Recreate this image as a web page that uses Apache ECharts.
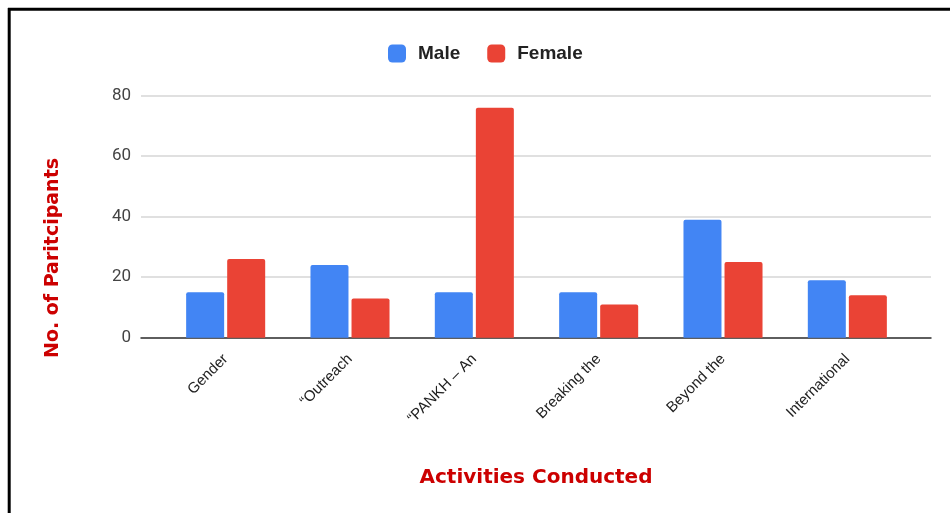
<!DOCTYPE html>
<html>
<head>
<meta charset="utf-8">
<script src="https://cdn.jsdelivr.net/npm/echarts@6/dist/echarts.min.js"></script>
<style>
html,body{margin:0;padding:0;background:#fff;}
#chart{width:950px;height:513px;}
</style>
</head>
<body>
<div id="chart"></div>
<script>
const categories = ['Gender', '\u201cOutreach', '\u201cPANKH \u2013 An', 'Breaking the', 'Beyond the', 'International'];
const maleValues = [15, 24, 15, 15, 39, 19];
const femaleValues = [26, 13, 76, 11, 25, 14];
const seriesNames = ['Male', 'Female'];
const yTicks = [0, 20, 40, 60, 80];
const xAxisTitle = 'Activities Conducted';
const yAxisTitle = 'No. of Paritcipants';

const chart = echarts.init(document.getElementById('chart'));
const gridTop = 95.7, gridBottom = 513 - 337.7;
chart.setOption({
  animation: false,
  backgroundColor: '#fff',
  legend: {
    top: 44,
    left: 388,
    padding: 0,
    itemWidth: 18,
    itemHeight: 18,
    itemGap: 27,
    icon: 'roundRect',
    data: seriesNames,
    textStyle: {fontFamily: 'Liberation Sans, Arial', fontWeight: 'bold', fontSize: 19, color: '#222', padding: [0, 0, 0, 7]}
  },
  grid: [
    {left: 141, right: 19, top: gridTop, bottom: gridBottom},
    {left: 163.5, right: 40.5, top: gridTop, bottom: gridBottom}
  ],
  xAxis: [
    {gridIndex: 0, type: 'category', data: [''], axisLine: {show: true, lineStyle: {color: '#333', width: 1.5}}, axisTick: {show: false}, axisLabel: {show: false}},
    {gridIndex: 1, type: 'category', data: categories, axisLine: {show: false}, axisTick: {show: false},
     axisLabel: {rotate: 45, interval: 0, margin: 19, fontFamily: 'Liberation Sans, Arial', fontSize: 15, color: '#222', padding: [0, 0, 0, 0]}}
  ],
  yAxis: [
    {gridIndex: 0, type: 'value', min: yTicks[0], max: yTicks[yTicks.length - 1], interval: yTicks[1] - yTicks[0],
     axisLine: {show: false}, axisTick: {show: false},
     axisLabel: {margin: 10, fontFamily: 'Roboto', fontSize: 17, color: '#444'},
     splitLine: {lineStyle: {color: '#d6d6d6', width: 1.5}}},
    {gridIndex: 1, type: 'value', min: yTicks[0], max: yTicks[yTicks.length - 1], interval: yTicks[1] - yTicks[0],
     show: false, splitLine: {show: false}}
  ],
  series: [
    {name: seriesNames[0], type: 'bar', xAxisIndex: 1, yAxisIndex: 1, data: maleValues, barWidth: 38, barGap: '8%',
     itemStyle: {color: '#4285F4', borderRadius: [2, 2, 0, 0]}},
    {name: seriesNames[1], type: 'bar', xAxisIndex: 1, yAxisIndex: 1, data: femaleValues, barWidth: 38, barGap: '8%',
     itemStyle: {color: '#EA4335', borderRadius: [2, 2, 0, 0]}}
  ],
  graphic: [
    {type: 'line', shape: {x1: 8, y1: 9.3, x2: 950, y2: 9.3}, style: {stroke: '#000', lineWidth: 3}},
    {type: 'line', shape: {x1: 9.2, y1: 8, x2: 9.2, y2: 513}, style: {stroke: '#000', lineWidth: 3}},
    {type: 'text', x: 536, y: 478, style: {text: xAxisTitle, fill: '#cc0000', font: 'bold 20px "DejaVu Sans"', textAlign: 'center', textVerticalAlign: 'middle'}},
    {type: 'text', x: 53, y: 258, rotation: Math.PI / 2, style: {text: yAxisTitle, fill: '#cc0000', font: 'bold 19px "DejaVu Sans"', textAlign: 'center', textVerticalAlign: 'middle'}}
  ]
});
</script>
</body>
</html>
